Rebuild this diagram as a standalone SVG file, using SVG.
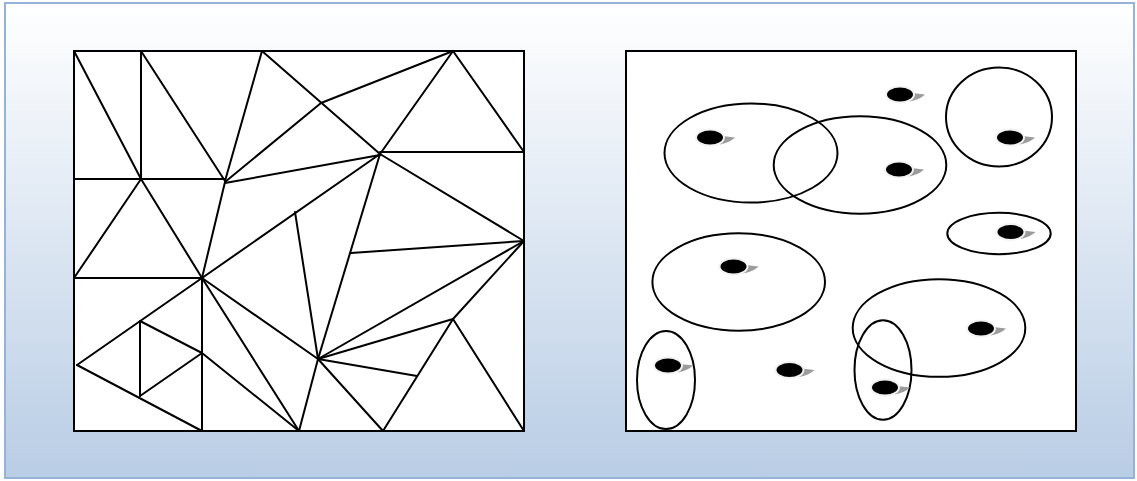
<svg xmlns="http://www.w3.org/2000/svg" width="1137" height="481" viewBox="0 0 1137 481">
<defs>
<linearGradient id="bg" x1="0" y1="0" x2="0" y2="1">
<stop offset="0" stop-color="#ffffff"/>
<stop offset="1" stop-color="#b9cde5"/>
</linearGradient>
<g id="dot">
<path d="M8,-2 L25,0 Q20,5 10,7 Z" fill="#9c9c9c"/>
<ellipse cx="0" cy="0" rx="14" ry="8" fill="#000" stroke="#f2f2f2" stroke-width="2"/>
</g>
</defs>
<style>
.frame{fill:#fff;stroke:#000;stroke-width:2}
.tri{fill:none;stroke:#000;stroke-width:2;stroke-linejoin:round;stroke-linecap:round}
.ring{fill:none;stroke:#000;stroke-width:2}
</style>
<rect x="5" y="3" width="1129" height="475" fill="url(#bg)" stroke="#95b3d7" stroke-width="2"/>
<g id="left-panel">
<rect class="frame" x="74" y="51" width="450" height="380"/>
<g class="tri">
<line x1="74" y1="51" x2="141" y2="179"/>
<line x1="141" y1="51" x2="141" y2="179"/>
<line x1="141" y1="51" x2="225" y2="181"/>
<line x1="262" y1="51" x2="225" y2="181"/>
<line x1="262" y1="51" x2="380" y2="154"/>
<line x1="321" y1="103" x2="453" y2="51"/>
<line x1="225" y1="182" x2="321" y2="103"/>
<line x1="453" y1="51" x2="380" y2="154"/>
<line x1="453" y1="51" x2="524" y2="152"/>
<line x1="380" y1="152" x2="524" y2="152"/>
<line x1="74" y1="179" x2="225" y2="179"/>
<line x1="225" y1="183" x2="380" y2="155"/>
<line x1="225" y1="182" x2="202" y2="278"/>
<line x1="141" y1="179" x2="74" y2="278"/>
<line x1="141" y1="179" x2="202" y2="278"/>
<line x1="74" y1="278" x2="202" y2="278"/>
<line x1="202" y1="278" x2="380" y2="154"/>
<line x1="380" y1="154" x2="524" y2="241"/>
<line x1="295" y1="212" x2="318" y2="359"/>
<line x1="380" y1="154" x2="318" y2="359"/>
<line x1="351" y1="253" x2="524" y2="241"/>
<line x1="318" y1="359" x2="524" y2="241"/>
<line x1="318" y1="359" x2="453" y2="319"/>
<line x1="453" y1="319" x2="524" y2="241"/>
<line x1="453" y1="319" x2="524" y2="431"/>
<line x1="453" y1="319" x2="383" y2="431"/>
<line x1="318" y1="359" x2="417" y2="376"/>
<line x1="318" y1="359" x2="383" y2="431"/>
<line x1="318" y1="359" x2="299" y2="431"/>
<line x1="202" y1="278" x2="318" y2="359"/>
<line x1="202" y1="278" x2="299" y2="431"/>
<line x1="202" y1="353" x2="299" y2="431"/>
<line x1="202" y1="278" x2="202" y2="431"/>
<line x1="202" y1="278" x2="77" y2="365"/>
<line x1="77" y1="365" x2="202" y2="431"/>
<line x1="140" y1="321" x2="140" y2="396"/>
<line x1="140" y1="321" x2="202" y2="353"/>
<line x1="140" y1="396" x2="202" y2="353"/>
</g>
</g>
<g id="right-panel">
<rect class="frame" x="626" y="51" width="450" height="380"/>
<g id="clusters">
<ellipse class="ring" cx="751" cy="153" rx="86.5" ry="49.5"/>
<ellipse class="ring" cx="860" cy="165" rx="86.3" ry="48.7"/>
<ellipse class="ring" cx="999" cy="117" rx="53" ry="49.5"/>
<ellipse class="ring" cx="999" cy="233.5" rx="51.7" ry="20.7"/>
<ellipse class="ring" cx="738.7" cy="282" rx="86.3" ry="48.7"/>
<ellipse class="ring" cx="666" cy="380" rx="29" ry="49"/>
<ellipse class="ring" cx="939" cy="328" rx="86.3" ry="48.8"/>
<ellipse class="ring" cx="883" cy="370" rx="28.5" ry="49.7"/>
</g>
<g id="points">
<use href="#dot" x="710" y="137.5"/>
<use href="#dot" x="900" y="94.5"/>
<use href="#dot" x="1010" y="137.5"/>
<use href="#dot" x="899" y="169.5"/>
<use href="#dot" x="1010.5" y="232"/>
<use href="#dot" x="733.5" y="266.5"/>
<use href="#dot" x="668" y="365.5"/>
<use href="#dot" x="789.5" y="370"/>
<use href="#dot" x="981" y="328.5"/>
<use href="#dot" x="885" y="387.5"/>
</g>
</g>
</svg>
